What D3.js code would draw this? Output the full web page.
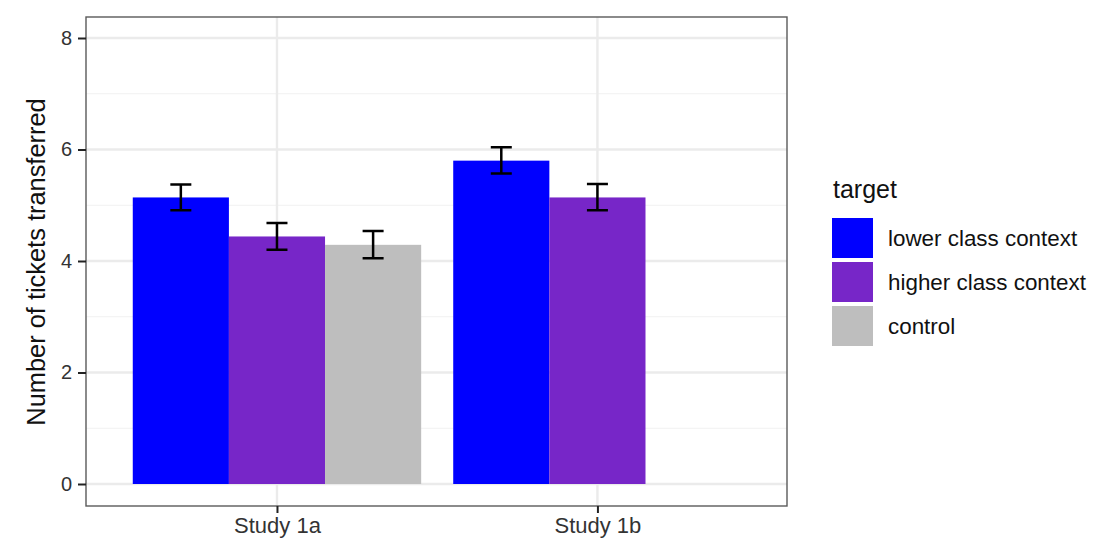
<!DOCTYPE html>
<html>
<head>
<meta charset="utf-8">
<script src="https://cdn.jsdelivr.net/npm/d3@7"></script>
<style>
  html, body { margin: 0; padding: 0; background: #fff; }
  text { font-family: "Liberation Sans", sans-serif; }
</style>
</head>
<body>
<div id="chart"></div>
<script>
// Values
const studies = ["Study 1a", "Study 1b"];
const targets = ["lower class context", "higher class context", "control"];
const targetColors = ["#0000ff", "#7726c8", "#bebebe"];
const studyOf = ["Study 1a", "Study 1a", "Study 1a", "Study 1b", "Study 1b"];
const targetOf = ["lower class context", "higher class context", "control", "lower class context", "higher class context"];
const means = [5.14, 4.44, 4.29, 5.80, 5.14];
const errLow = [4.91, 4.20, 4.05, 5.57, 4.91];
const errHigh = [5.37, 4.68, 4.54, 6.04, 5.38];
const yMajor = [0, 2, 4, 6, 8];
const yMinor = [1, 3, 5, 7];

const svgWidth = 1097;
const svgHeight = 557;
const panel = { left: 86, right: 787, top: 17, bottom: 506 };

const svg = d3.select("#chart")
  .append("svg")
  .attr("width", svgWidth)
  .attr("height", svgHeight)
  .style("display", "block");

// Scales
const xScale = d3.scalePoint()
  .domain(studies)
  .range([84.7, 789.7])
  .padding(0.6);

const yScale = d3.scaleLinear()
  .domain([0, 8])
  .range([484, 38]);

// Three dodge slots in each study, 0.3 of the step wide
const barWidth = xScale.step() * 0.3;
const dodge = d3.scaleBand()
  .domain(targets)
  .range([-1.5 * barWidth, 1.5 * barWidth]);

const colorScale = d3.scaleOrdinal().domain(targets).range(targetColors);

// Grid lines
svg.append("g").selectAll("line")
  .data(yMinor)
  .enter()
  .append("line")
  .attr("x1", panel.left).attr("x2", panel.right)
  .attr("y1", d => yScale(d)).attr("y2", d => yScale(d))
  .attr("stroke", "#f1f1f1").attr("stroke-width", 1.2);

svg.append("g").selectAll("line")
  .data(yMajor)
  .enter()
  .append("line")
  .attr("x1", panel.left).attr("x2", panel.right)
  .attr("y1", d => yScale(d)).attr("y2", d => yScale(d))
  .attr("stroke", "#ebebeb").attr("stroke-width", 2.4);

svg.append("g").selectAll("line")
  .data(studies)
  .enter()
  .append("line")
  .attr("x1", d => xScale(d)).attr("x2", d => xScale(d))
  .attr("y1", panel.top).attr("y2", panel.bottom)
  .attr("stroke", "#ebebeb").attr("stroke-width", 2.4);

// Bars
const rows = means.map((m, i) => ({
  study: studyOf[i], target: targetOf[i], mean: m, low: errLow[i], high: errHigh[i]
}));
const barCenter = d => xScale(d.study) + dodge(d.target) + barWidth / 2;

svg.selectAll(".bar")
  .data(rows)
  .enter()
  .append("rect")
  .attr("class", "bar")
  .attr("x", d => xScale(d.study) + dodge(d.target))
  .attr("y", d => yScale(d.mean))
  .attr("width", barWidth)
  .attr("height", d => yScale(0) - yScale(d.mean))
  .attr("fill", d => colorScale(d.target));

// Error bars
const errPath = d => {
  const c = barCenter(d), cap = 10.5;
  const lo = yScale(d.low), hi = yScale(d.high);
  return `M${c - cap},${hi}H${c + cap}M${c},${hi}V${lo}M${c - cap},${lo}H${c + cap}`;
};
svg.selectAll(".err")
  .data(rows)
  .enter()
  .append("path")
  .attr("class", "err")
  .attr("d", errPath)
  .attr("fill", "none")
  .attr("stroke", "#000")
  .attr("stroke-width", 2.5);

// Panel border
svg.append("rect")
  .attr("x", panel.left).attr("y", panel.top)
  .attr("width", panel.right - panel.left)
  .attr("height", panel.bottom - panel.top)
  .attr("fill", "none")
  .attr("stroke", "#5a5a5a")
  .attr("stroke-width", 1.4);

// Axes
const yAxis = svg.append("g")
  .attr("transform", `translate(${panel.left},0)`)
  .call(d3.axisLeft(yScale).tickValues(yMajor).tickSize(8).tickPadding(6).tickFormat(d3.format("d")));
yAxis.select(".domain").remove();
yAxis.selectAll(".tick line").attr("stroke", "#222").attr("stroke-width", 2);
yAxis.selectAll("text").attr("font-size", 20).attr("fill", "#333")
  .style("font-family", '"Liberation Sans", sans-serif');

const xAxis = svg.append("g")
  .attr("transform", `translate(0,${panel.bottom})`)
  .call(d3.axisBottom(xScale).tickSize(7).tickPadding(4));
xAxis.select(".domain").remove();
xAxis.selectAll(".tick line").attr("stroke", "#222").attr("stroke-width", 2);
xAxis.selectAll("text").attr("font-size", 22).attr("fill", "#333")
  .style("font-family", '"Liberation Sans", sans-serif');

svg.append("text")
  .attr("transform", "translate(45,262) rotate(-90)")
  .attr("text-anchor", "middle")
  .attr("font-size", 25.4)
  .attr("fill", "#111")
  .text("Number of tickets transferred");

// Legend
svg.append("text")
  .attr("x", 833).attr("y", 198)
  .attr("font-size", 25)
  .attr("fill", "#111")
  .text("target");

const legendY = d3.scalePoint().domain(targets).range([238, 326]);
const legend = svg.selectAll(".legend")
  .data(targets)
  .enter()
  .append("g")
  .attr("class", "legend")
  .attr("transform", d => `translate(0,${legendY(d)})`);

legend.append("rect")
  .attr("x", 832).attr("y", -20)
  .attr("width", 41).attr("height", 40)
  .attr("fill", d => colorScale(d));

legend.append("text")
  .attr("x", 888).attr("y", 8)
  .attr("font-size", 22.4)
  .attr("fill", "#111")
  .text(d => d);
</script>
</body>
</html>
